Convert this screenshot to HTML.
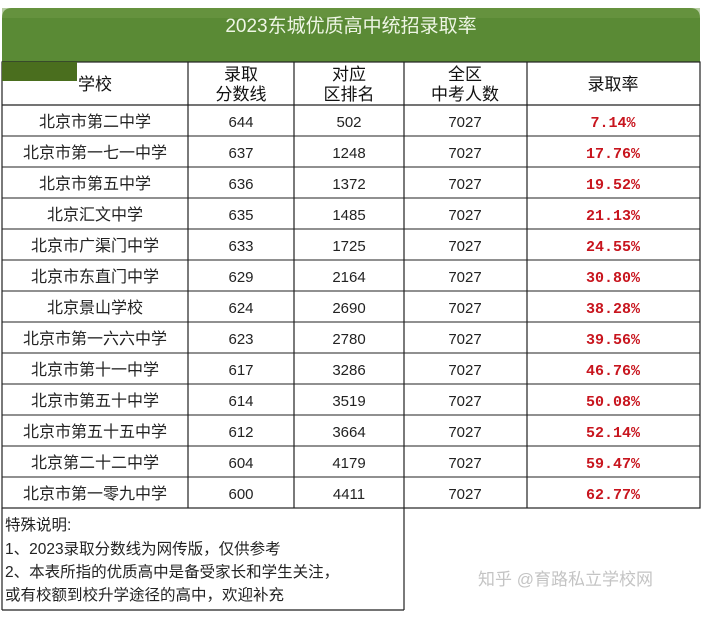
<!DOCTYPE html>
<html><head><meta charset="utf-8"><style>
body{margin:0;background:#fff;}
svg text{font-family:"Liberation Sans","Noto Sans CJK SC",sans-serif;}
svg .mono text{font-family:"Liberation Mono",monospace;}
</style></head><body>
<svg width="705" height="613" viewBox="0 0 705 613" xmlns="http://www.w3.org/2000/svg">
<rect width="705" height="613" fill="#fff"/>
<path d="M2,62 L2,18 Q2,8 12,8 L690,8 Q700,8 700,18 L700,62 Z" fill="#5a8a35"/>
<rect x="2" y="8" width="698" height="10" fill="#6f9a48" opacity="0.5"/>
<text x="351" y="32" text-anchor="middle" font-size="19" fill="#eef5e4">2023东城优质高中统招录取率</text>
<rect x="2" y="62" width="698" height="446" fill="#fff" stroke="#222" stroke-width="1.2"/>
<rect x="2" y="62" width="75" height="19" fill="#4a6e1e"/>
<g stroke="#222" stroke-width="1.2">
<line x1="188" y1="62" x2="188" y2="508"/>
<line x1="294" y1="62" x2="294" y2="508"/>
<line x1="404" y1="62" x2="404" y2="610"/>
<line x1="527" y1="62" x2="527" y2="508"/>
<line x1="2" y1="105" x2="700" y2="105"/>
<line x1="2" y1="508" x2="2" y2="610"/>
<line x1="2" y1="610" x2="404" y2="610"/>
</g>
<g stroke="#222" stroke-width="1">
<line x1="2" y1="136" x2="700" y2="136"/><line x1="2" y1="167" x2="700" y2="167"/>
<line x1="2" y1="198" x2="700" y2="198"/><line x1="2" y1="229" x2="700" y2="229"/>
<line x1="2" y1="260" x2="700" y2="260"/><line x1="2" y1="291" x2="700" y2="291"/>
<line x1="2" y1="322" x2="700" y2="322"/><line x1="2" y1="353" x2="700" y2="353"/>
<line x1="2" y1="384" x2="700" y2="384"/><line x1="2" y1="415" x2="700" y2="415"/>
<line x1="2" y1="446" x2="700" y2="446"/><line x1="2" y1="477" x2="700" y2="477"/>
</g>
<g font-size="17" fill="#111" text-anchor="middle">
<text x="95" y="90">学校</text>
<text x="241" y="80">录取</text><text x="241" y="100">分数线</text>
<text x="349" y="80">对应</text><text x="349" y="100">区排名</text>
<text x="465" y="80">全区</text><text x="465" y="100">中考人数</text>
<text x="613" y="90">录取率</text>
</g>
<g font-size="16" fill="#222" text-anchor="middle">
<text x="95" y="127">北京市第二中学</text><text x="95" y="158">北京市第一七一中学</text>
<text x="95" y="189">北京市第五中学</text><text x="95" y="220">北京汇文中学</text>
<text x="95" y="251">北京市广渠门中学</text><text x="95" y="282">北京市东直门中学</text>
<text x="95" y="313">北京景山学校</text><text x="95" y="344">北京市第一六六中学</text>
<text x="95" y="375">北京市第十一中学</text><text x="95" y="406">北京市第五十中学</text>
<text x="95" y="437">北京市第五十五中学</text><text x="95" y="468">北京第二十二中学</text>
<text x="95" y="499">北京市第一零九中学</text>
</g>
<g font-size="15" fill="#222" text-anchor="middle">
<text x="241" y="127">644</text><text x="241" y="158">637</text><text x="241" y="189">636</text><text x="241" y="220">635</text><text x="241" y="251">633</text><text x="241" y="282">629</text><text x="241" y="313">624</text><text x="241" y="344">623</text><text x="241" y="375">617</text><text x="241" y="406">614</text><text x="241" y="437">612</text><text x="241" y="468">604</text><text x="241" y="499">600</text>
<text x="349" y="127">502</text><text x="349" y="158">1248</text><text x="349" y="189">1372</text><text x="349" y="220">1485</text><text x="349" y="251">1725</text><text x="349" y="282">2164</text><text x="349" y="313">2690</text><text x="349" y="344">2780</text><text x="349" y="375">3286</text><text x="349" y="406">3519</text><text x="349" y="437">3664</text><text x="349" y="468">4179</text><text x="349" y="499">4411</text>
<text x="465" y="127">7027</text><text x="465" y="158">7027</text><text x="465" y="189">7027</text><text x="465" y="220">7027</text><text x="465" y="251">7027</text><text x="465" y="282">7027</text><text x="465" y="313">7027</text><text x="465" y="344">7027</text><text x="465" y="375">7027</text><text x="465" y="406">7027</text><text x="465" y="437">7027</text><text x="465" y="468">7027</text><text x="465" y="499">7027</text>
</g>
<g class="mono" font-size="15" font-weight="bold" fill="#c8151e" text-anchor="middle">
<text x="613" y="127">7.14%</text><text x="613" y="158">17.76%</text><text x="613" y="189">19.52%</text><text x="613" y="220">21.13%</text><text x="613" y="251">24.55%</text><text x="613" y="282">30.80%</text><text x="613" y="313">38.28%</text><text x="613" y="344">39.56%</text><text x="613" y="375">46.76%</text><text x="613" y="406">50.08%</text><text x="613" y="437">52.14%</text><text x="613" y="468">59.47%</text><text x="613" y="499">62.77%</text>
</g>
<g font-size="15.5" fill="#222">
<text x="5" y="530">特殊说明:</text>
<text x="5" y="554">1、2023录取分数线为网传版，仅供参考</text>
<text x="5" y="577">2、本表所指的优质高中是备受家长和学生关注，</text>
<text x="5" y="600">或有校额到校升学途径的高中，欢迎补充</text>
</g>
<text x="478" y="585" font-size="17" fill="#c4c4c4">知乎 @育路私立学校网</text>
</svg>
</body></html>
